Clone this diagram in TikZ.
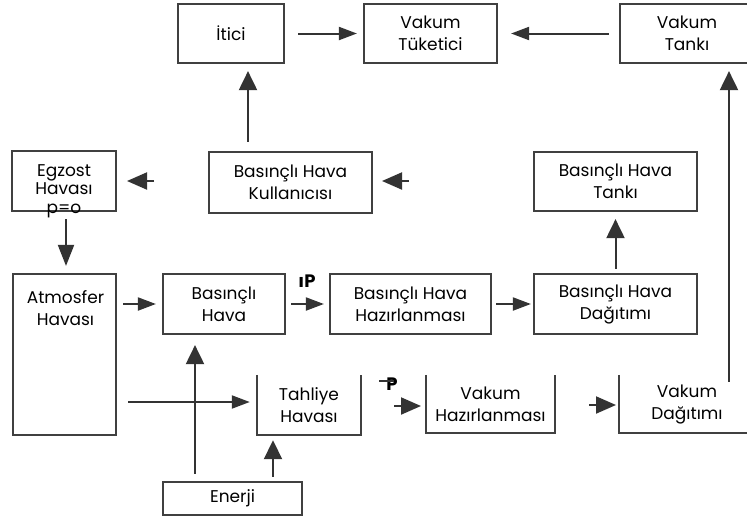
\documentclass[tikz,border=0pt]{standalone}
\usepackage{fontspec}
\setmainfont{Poppins}
\usetikzlibrary{arrows.meta}
\tikzset{
  box/.style={draw=black!75, line width=2.2pt, inner sep=0pt, align=center,
    font=\fontsize{17}{22}\selectfont},
  openbox/.style={inner sep=0pt, align=center, font=\fontsize{17}{22}\selectfont},
  edge/.style={draw=black!75, line width=2.2pt},
  con/.style={draw=black!80, line width=2pt},
  harr/.style={con, -{Triangle[length=18pt,width=13pt]}},
  varr/.style={con, -{Triangle[length=19pt,width=18pt]}},
  freehead/.style={con, -{Triangle[length=20pt,width=17pt]}},
  stray/.style={inner sep=0pt, font=\fontsize{18}{18}\selectfont\bfseries},
}
\begin{document}
\begin{tikzpicture}[x=1pt,y=-1pt]
\useasboundingbox (0,0) rectangle (747,520);
\clip (0,0) rectangle (747,520);
% boxes
\node[box, minimum width=106pt, minimum height=59pt] (itici) at (231,33.5) {İtici};
\node[box, minimum width=133pt, minimum height=59pt] (vtuk) at (430.5,33.5) {Vakum\\Tüketici};
\node[box, minimum width=134pt, minimum height=59pt] (vtank) at (687,33.5) {Vakum\\Tankı};
\node[box, minimum width=104pt, minimum height=60pt] (egz) at (64,181) {};
\node[openbox, font=\fontsize{17}{18.5}\selectfont] (egzt) at (64,191) {Egzost\\Havası\\p=o};
\node[box, minimum width=163pt, minimum height=61pt] (kul) at (290.5,182.5) {Basınçlı Hava\\Kullanıcısı};
\node[box, minimum width=163pt, minimum height=59pt] (btank) at (615.5,181.5) {Basınçlı Hava\\Tankı};
\node[box, minimum width=103pt, minimum height=161pt] (atm) at (64.5,354.5) {};
\node[openbox] (atmt) at (65.5,308) {Atmosfer\\Havası};
\node[box, minimum width=122pt, minimum height=60pt] (bh) at (224,304) {Basınçlı\\Hava};
\node[box, minimum width=161pt, minimum height=60pt] (bhh) at (410.5,304) {Basınçlı Hava\\Hazırlanması};
\node[box, minimum width=163pt, minimum height=60pt] (bhd) at (615.5,304) {Basınçlı Hava\\Dağıtımı};
\node[openbox, minimum width=104pt, minimum height=60pt] (tah) at (309,405) {Tahliye\\Havası};
\node[openbox, minimum width=129pt, minimum height=58pt] (vhaz) at (490.5,404) {Vakum\\Hazırlanması};
\node[openbox, minimum width=136pt, minimum height=58pt] (vdag) at (687,404) {Vakum\\Dağıtımı};
\node[box, minimum width=139pt, minimum height=33pt] (enerji) at (232.5,498.5) {Enerji};
% open-top boxes
\draw[edge] (tah.north west) -- (tah.south west) -- (tah.south east) -- (tah.north east);
\draw[edge] (vhaz.north west) -- (vhaz.south west) -- (vhaz.south east) -- (vhaz.north east);
\draw[edge] (vdag.north west) -- (vdag.south west) -- (vdag.south east) -- (vdag.north east);
% connectors
\draw[harr, shorten <=13pt, shorten >=6pt] (itici.east) -- (vtuk.west);
\draw[harr, shorten <=10pt, shorten >=13pt] (vtank.west) -- (vtuk.east);
\draw[varr, shorten <=9pt, shorten >=7pt] ([xshift=17pt]itici.south |- kul.north) -- ([xshift=17pt]itici.south);
\draw[varr, -{Triangle[length=21pt,width=16pt]}, shorten <=7pt, shorten >=7pt] ([xshift=2pt]egz.south) -- ([xshift=2pt]egz.south |- atm.north);
\draw[harr, shorten <=6pt, shorten >=6pt] (atm.east |- bh.west) -- (bh.west);
\draw[harr, shorten <=5pt, shorten >=5pt] (bh.east) -- (bhh.west);
\draw[harr, shorten <=4pt, shorten >=2pt] (bhh.east) -- (bhd.west);
\draw[varr, shorten <=4pt, shorten >=7pt] (bhd.north) -- (btank.south);
\draw[varr, shorten <=-7pt, shorten >=7pt] ([xshift=42pt]vdag.north) -- ([xshift=42pt]vtank.south);
\draw[harr, shorten <=11pt, shorten >=7pt] ([yshift=3pt]atm.east |- tah.west) -- ([yshift=3pt]tah.west);
\draw[varr, shorten <=7pt, shorten >=10pt] ([xshift=-29pt]bh.south |- enerji.north) -- ([xshift=-29pt]bh.south);
\draw[varr, shorten <=4pt, shorten >=5pt] ([xshift=-36pt]tah.south |- enerji.north) -- ([xshift=-36pt]tah.south);
% isolated arrowheads
\coordinate (f1a) at (154,181); \coordinate (f1b) at (127,181);
\coordinate (f2a) at (409,181); \coordinate (f2b) at (382,181);
\coordinate (f3a) at (394,406); \coordinate (f3b) at (421,406);
\coordinate (f4a) at (589,405); \coordinate (f4b) at (616,405);
\draw[freehead] (f1a) -- (f1b);
\draw[freehead] (f2a) -- (f2b);
\draw[freehead] (f3a) -- (f3b);
\draw[freehead] (f4a) -- (f4b);
% stray marks
\node[stray] (s1) at (307,281) {ıP};
\node[stray] (s2) at (392,384) {P};
\draw[con, line width=2.5pt] (379,381) -- (394,381);
\end{tikzpicture}
\end{document}
